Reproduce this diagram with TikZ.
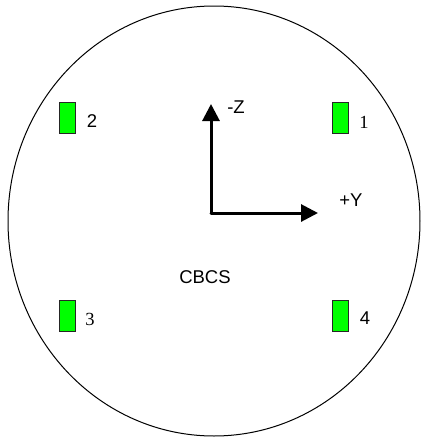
\documentclass[tikz,border=0pt]{standalone}
\usepackage{fontspec}
\setmainfont{Liberation Sans}
\newfontfamily\serifnum{Liberation Serif}
\usetikzlibrary{arrows.meta}
\definecolor{padgreen}{RGB}{0,255,0}
\begin{document}
\begin{tikzpicture}[x=1pt,y=-1pt,
  padbox/.style={draw=black!85,line width=0.9pt,fill=padgreen,minimum width=16pt,minimum height=31pt,inner sep=0pt},
  lbl/.style={font=\fontsize{18.5}{22}\selectfont,inner sep=0pt},
  axis/.style={line width=3pt,line cap=round,-{Triangle[length=17pt,width=17pt]}}]
\useasboundingbox (0,0) rectangle (421,437);
\draw[line width=1pt] (214,221) ellipse [x radius=206, y radius=215];
\node[padbox] (p1) at (340,118) {};
\node[padbox] (p2) at (67,118) {};
\node[padbox] (p3) at (67,316) {};
\node[padbox] (p4) at (340,316) {};
\node[lbl,font=\fontsize{18.5}{22}\serifnum] (l1) at (364,122) {1};
\node[lbl] (l2) at (92,121) {2};
\node[lbl,font=\fontsize{18.5}{22}\serifnum] (l3) at (90,319) {3};
\node[lbl] (l4) at (365,318) {4};
\coordinate (o) at (211,213);
\coordinate (zt) at (211,104);
\coordinate (yt) at (318,213);
\draw[axis] (o) -- (zt);
\draw[axis] (o) -- (yt);
\node[lbl] (zl) at (236,107) {-Z};
\node[lbl] (yl) at (351,200) {+Y};
\node[lbl] (cb) at (205,277) {CBCS};
\end{tikzpicture}
\end{document}
